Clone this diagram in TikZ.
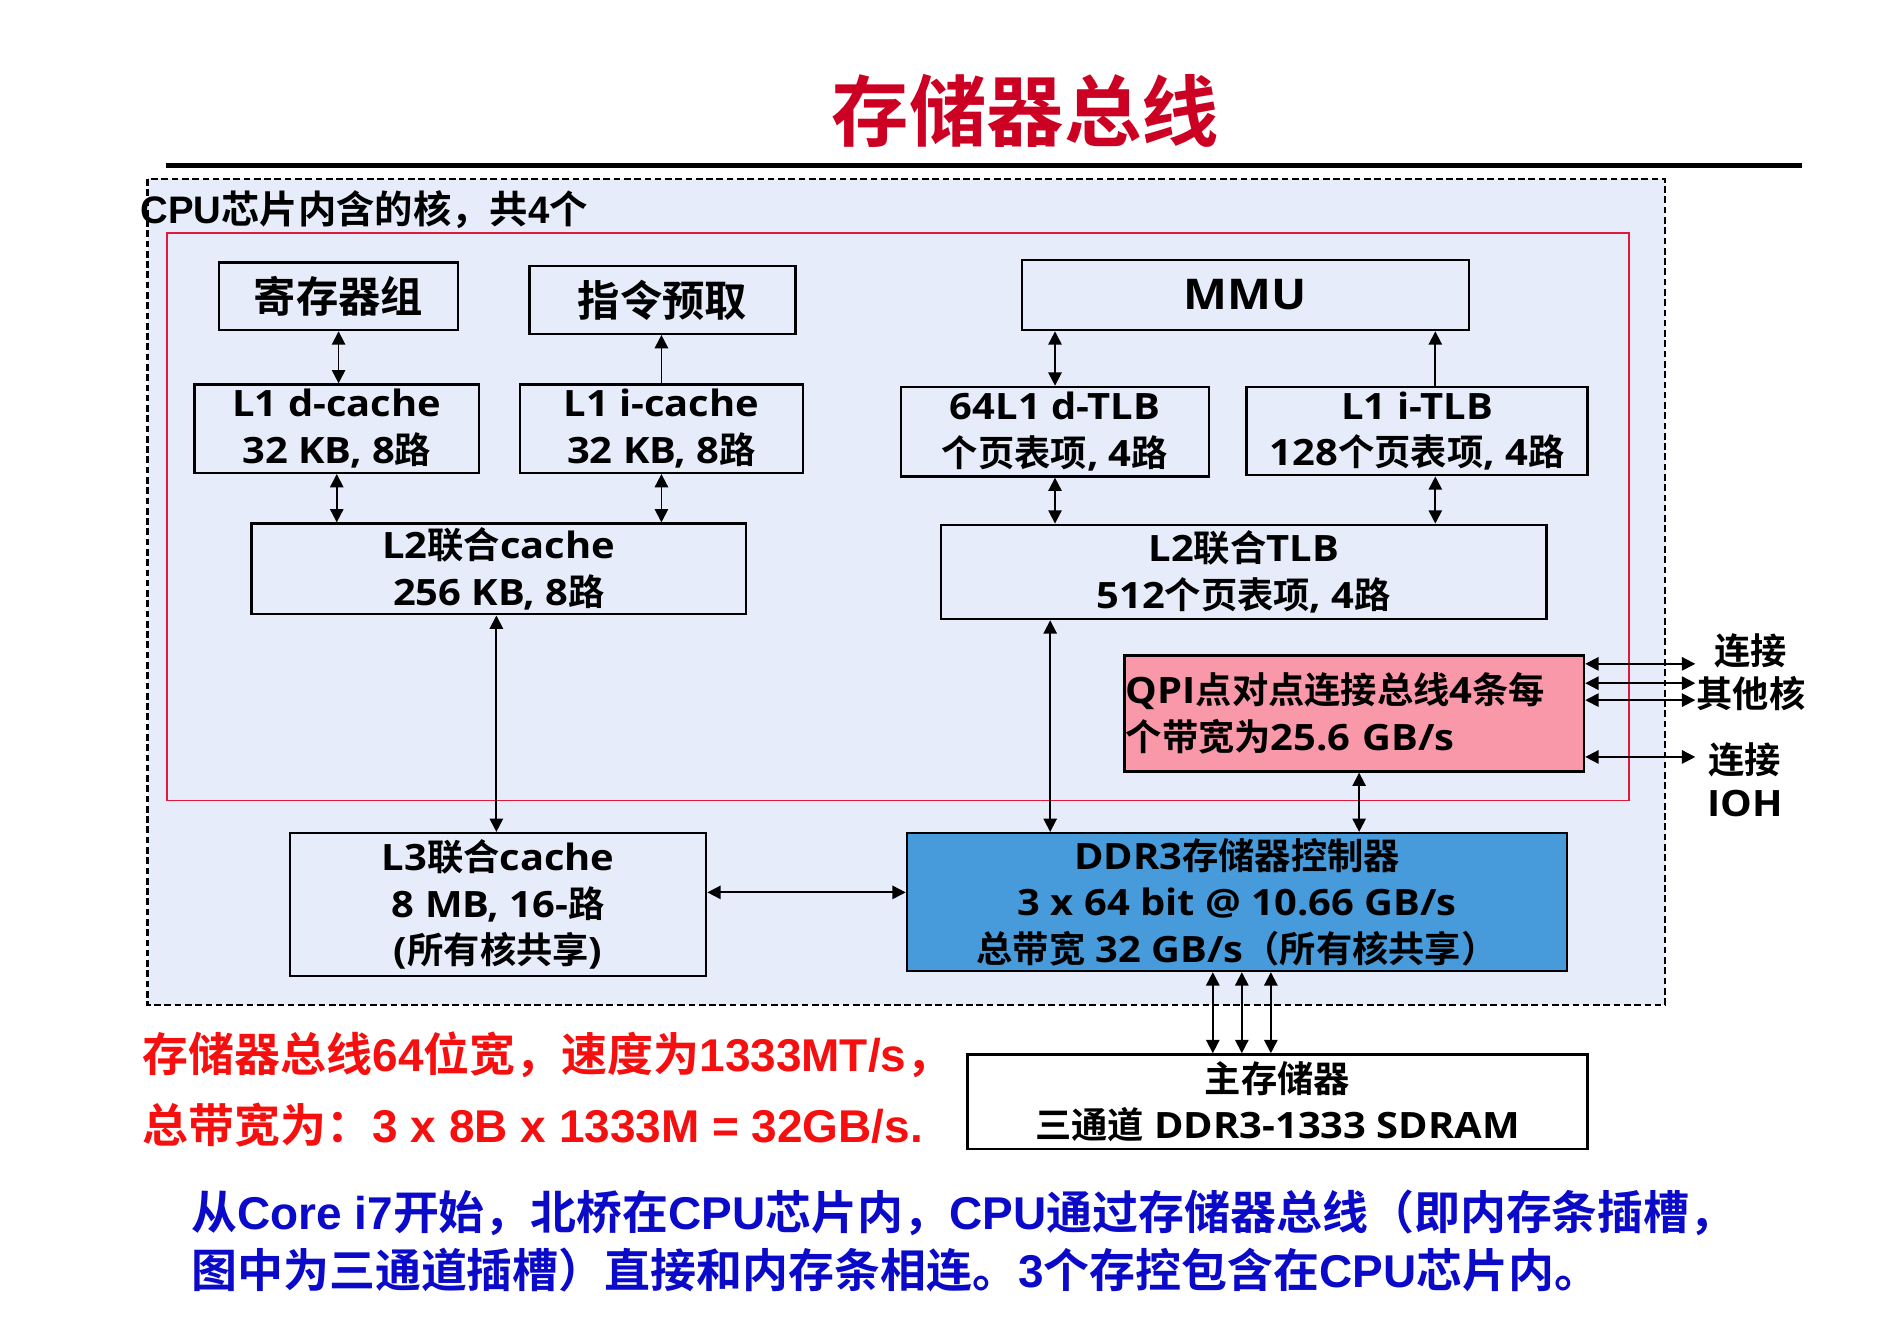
\documentclass[tikz,border=0pt]{standalone}
\usepackage{fontspec}
\setmainfont{Noto Sans CJK SC}[BoldFont={Noto Sans CJK SC Bold}]
\newfontfamily\boxlatin{Open Sans}[FakeStretch=1.1]
\newfontfamily\notelatin{Liberation Sans}
\newcommand\en[1]{{\boxlatin #1}}
\newcommand\ar[1]{{\notelatin #1}}
\usetikzlibrary{positioning, arrows.meta}
\definecolor{chipbg}{RGB}{230,236,250}
\definecolor{corered}{RGB}{226,24,60}
\definecolor{titlered}{RGB}{204,0,34}
\definecolor{qpipink}{RGB}{248,152,168}
\definecolor{ddrblue}{RGB}{72,155,218}
\definecolor{notered}{RGB}{245,15,15}
\definecolor{noteblue}{RGB}{10,10,200}
\tikzset{
  unit/.style    = {draw, line width=2pt, inner sep=0pt, align=center,
                    font=\bfseries\fontsize{30pt}{38.5pt}\selectfont},
  topunit/.style = {unit, font=\bfseries\fontsize{35pt}{40pt}\selectfont},
  side/.style    = {align=center, font=\bfseries\fontsize{30pt}{36pt}\selectfont},
  note/.style    = {anchor=west, inner sep=0pt, font=\bfseries\fontsize{38pt}{42pt}\selectfont},
  arr/.style     = {{Triangle[length=11pt,width=11pt]}-{Triangle[length=11pt,width=11pt]}, line width=1.5pt},
  uarr/.style    = {-{Triangle[length=11pt,width=11pt]}, line width=1.5pt}
}

\begin{document}
\begin{tikzpicture}[x=1pt, y=-1pt]
        \useasboundingbox[fill=white] (0,0) rectangle (1568,1106);
        % title and rule
        \node[font=\bfseries\fontsize{64pt}{70pt}\selectfont, text=titlered] (title) at (848,92) {存储器总线};
        \draw[line width=4pt] (137,137) -- (1490,137);
        % chip and core frames
        \draw[line width=2.2pt, dash pattern=on 5.5pt off 3pt, fill=chipbg] (122,148) rectangle (1377,831);
        \draw[line width=1.6pt, corered] (138,193) rectangle (1347,662);
        \node[anchor=west, inner sep=0pt, font=\bfseries\fontsize{31.7pt}{34pt}\selectfont] (chip) at (116,173) {\ar{CPU}芯片内含的核，共\ar{4}个};
        % units
        \node[topunit, minimum width=198pt, minimum height=56pt] (regs)  at (280,245)  {寄存器组};
        \node[topunit, minimum width=220pt, minimum height=56pt] (fetch) at (548,248)  {指令预取};
        \node[topunit, minimum width=370pt, minimum height=58pt] (mmu)   at (1030,244) {\en{MMU}};
        \node[unit, minimum width=235pt, minimum height=73pt] (l1d)  at (278.5,354.5) {\en{L1 d-cache}\\\en{32 KB, 8}路};
        \node[unit, minimum width=234pt, minimum height=73pt] (l1i)  at (547,354.5)   {\en{L1 i-cache}\\\en{32 KB, 8}路};
        \node[unit, minimum width=255pt, minimum height=74pt] (dtlb) at (872.5,357)   {\en{64L1 d-TLB}\\个页表项\en{, 4}路};
        \node[unit, minimum width=282pt, minimum height=73pt] (itlb) at (1172,356.5)  {\en{L1 i-TLB}\\\en{128}个页表项\en{, 4}路};
        \node[unit, minimum width=409pt, minimum height=75pt] (l2c)  at (412.5,470.5) {\en{L2}联合\en{cache}\\\en{256 KB, 8}路};
        \node[unit, minimum width=501pt, minimum height=78pt] (l2t)  at (1028.5,473)  {\en{L2}联合\en{TLB}\\\en{512}个页表项\en{, 4}路};
        \node[unit, fill=qpipink, align=left, inner xsep=1pt, text width=378pt, minimum height=96pt] (qpi) at (1120,590)
          {\en{QPI}点对点连接总线\en{4}条每\\个带宽为\en{25.6 GB/s}};
        \node[unit, minimum width=344pt, minimum height=118pt] (l3)  at (412,748)    {\en{L3}联合\en{cache}\\\en{8 MB, 16-}路\\\en{(}所有核共享\en{)}};
        \node[unit, fill=ddrblue, minimum width=546pt, minimum height=114pt] (ddr) at (1023,746)
          {\en{DDR3}存储器控制器\\\en{3 x 64 bit @ 10.66 GB/s}\\总带宽\en{ 32 GB/s}（所有核共享）};
        \node[unit, fill=white, minimum width=513pt, minimum height=78pt] (mem) at (1056.5,911) {主存储器\\三通道\en{ DDR3-1333 SDRAM}};
        % connections
        \draw[arr]  (regs.south) -- (regs.south |- l1d.north);
        \draw[uarr] (l1i.north) -- (l1i.north |- fetch.south);
        \draw[arr]  (l1d.south) -- (l1d.south |- l2c.north);
        \draw[arr]  (l1i.south) -- (l1i.south |- l2c.north);
        \draw[arr]  (dtlb.north) -- (dtlb.north |- mmu.south);
        \draw[uarr] ([xshift=15pt]itlb.north) -- ([xshift=15pt]itlb.north |- mmu.south);
        \draw[arr]  (dtlb.south) -- (dtlb.south |- l2t.north);
        \draw[arr]  ([xshift=15pt]itlb.south) -- ([xshift=15pt]itlb.south |- l2t.north);
        \draw[arr]  ([xshift=-2pt]l2c.south) -- ([xshift=-2pt]l2c.south |- l3.north);
        \draw[arr]  ([xshift=-160pt]l2t.south) -- ([xshift=-160pt]l2t.south |- ddr.north);
        \draw[arr]  ([xshift=4pt]qpi.south) -- ([xshift=4pt]qpi.south |- ddr.north);
        \draw[arr]  ([yshift=10pt]l3.east) -- ([yshift=10pt]l3.east -| ddr.west);
        \foreach \dx in {-20,4,28}
          \draw[arr] ([xshift=\dx pt]ddr.south) -- ([xshift=\dx pt]ddr.south |- mem.north);
        % links leaving the chip
        \coordinate (cores) at (1402,565);
        \coordinate (ioh)   at (1402,626);
        \foreach \dy in {-14,0,16}
          \draw[arr] ([yshift=\dy pt]qpi.east |- cores) -- ([yshift=\dy pt]cores);
        \draw[arr] (qpi.east |- ioh) -- (ioh);
        \node[side] (coreslbl) at (1448,556) {连接\\其他核};
        \node[side] (iohlbl)   at (1443,645) {连接\\\en{IOH}};
        % notes
        \node[note, text=notered] (bus1) at (118,872) {存储器总线\ar{64}位宽，速度为\ar{1333MT/s}，};
        \node[note, text=notered] (bus2) at (118,930) {总带宽为：\ar{3 x 8B x 1333M = 32GB/s.}};
        \node[note, text=noteblue] (info1) at (158,1003)
          {从\ar{Core i7}开始，北桥在\ar{CPU}芯片内，\ar{CPU}通过存储器总线（即内存条插槽，};
        \node[note, text=noteblue] (info2) at (158,1050)
          {图中为三通道插槽）直接和内存条相连。\ar{3}个存控包含在\ar{CPU}芯片内。};
\end{tikzpicture}
\end{document}
